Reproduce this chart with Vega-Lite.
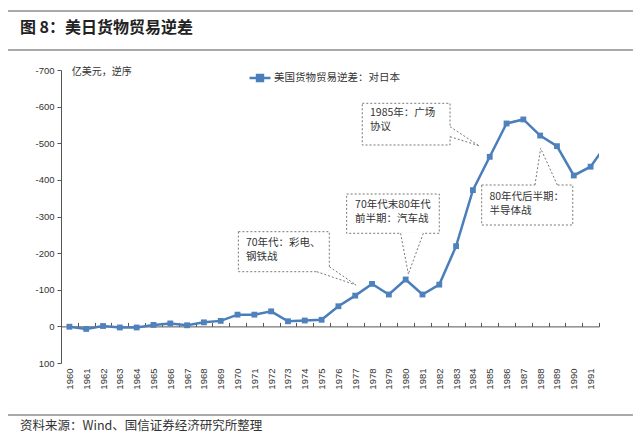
{
  "$schema": "https://vega.github.io/schema/vega-lite/v6.json",
  "description": "US goods trade deficit with Japan, 1960-1991 (reversed axis)",
  "width": 538,
  "height": 293,
  "autosize": {"type": "none"},
  "padding": {"left": 61, "top": 70, "right": 41, "bottom": 72},
  "background": "white",
  "config": {"view": {"stroke": null}, "font": "Liberation Sans"},
  "datasets": {
    "trade": [
      {"year": 1960, "value": 1}, {"year": 1961, "value": 7}, {"year": 1962, "value": -1},
      {"year": 1963, "value": 3}, {"year": 1964, "value": 3}, {"year": 1965, "value": -4},
      {"year": 1966, "value": -8}, {"year": 1967, "value": -3}, {"year": 1968, "value": -11},
      {"year": 1969, "value": -15}, {"year": 1970, "value": -32}, {"year": 1971, "value": -32},
      {"year": 1972, "value": -41}, {"year": 1973, "value": -14}, {"year": 1974, "value": -16},
      {"year": 1975, "value": -18}, {"year": 1976, "value": -55}, {"year": 1977, "value": -84},
      {"year": 1978, "value": -116}, {"year": 1979, "value": -87}, {"year": 1980, "value": -128},
      {"year": 1981, "value": -87}, {"year": 1982, "value": -114}, {"year": 1983, "value": -219},
      {"year": 1984, "value": -372}, {"year": 1985, "value": -463}, {"year": 1986, "value": -554},
      {"year": 1987, "value": -565}, {"year": 1988, "value": -521}, {"year": 1989, "value": -492},
      {"year": 1990, "value": -412}, {"year": 1991, "value": -436}, {"year": 1992, "value": -500}
    ],
    "boxes": [
      {"x1": 1977.42, "x2": 1982.64, "y1": -609.1, "y2": -495.2},
      {"x1": 1976.49, "x2": 1982.0, "y1": -361.4, "y2": -254.1},
      {"x1": 1970.05, "x2": 1975.46, "y1": -258.5, "y2": -149.3},
      {"x1": 1984.52, "x2": 1989.94, "y1": -386.0, "y2": -276.8}
    ],
    "gaps": [
      {"x1": 1982.64, "y1": -545.2, "x2": 1982.64, "y2": -517.9},
      {"x1": 1979.70, "y1": -254.1, "x2": 1981.05, "y2": -254.1},
      {"x1": 1974.71, "y1": -149.3, "x2": 1975.46, "y2": -149.3},
      {"x1": 1975.46, "y1": -149.3, "x2": 1975.46, "y2": -162.9},
      {"x1": 1987.69, "y1": -386.0, "x2": 1989.02, "y2": -386.0}
    ],
    "pointers": [
      {"x1": 1982.64, "y1": -545.2, "x2": 1984.36, "y2": -493.3},
      {"x1": 1982.64, "y1": -517.9, "x2": 1984.36, "y2": -493.3},
      {"x1": 1979.70, "y1": -254.1, "x2": 1980.16, "y2": -143.0},
      {"x1": 1981.05, "y1": -254.1, "x2": 1980.16, "y2": -143.0},
      {"x1": 1975.46, "y1": -162.9, "x2": 1977.05, "y2": -113.0},
      {"x1": 1974.71, "y1": -149.3, "x2": 1977.05, "y2": -113.0},
      {"x1": 1987.69, "y1": -386.0, "x2": 1988.03, "y2": -486.2},
      {"x1": 1989.02, "y1": -386.0, "x2": 1988.03, "y2": -486.2}
    ],
    "notes": [
      {"x": 1977.88, "y": -596.8, "text": "1985年：广场\n协议"},
      {"x": 1976.99, "y": -346.4, "text": "70年代末80年代\n前半期：汽车战"},
      {"x": 1970.50, "y": -241.8, "text": "70年代：彩电、\n钢铁战"},
      {"x": 1984.98, "y": -367.4, "text": "80年代后半期：\n半导体战"}
    ]
  },
  "layer": [
    {
      "data": {"values": [
        {"x1": 1956.35, "x2": 1993.52, "y": -861.1},
        {"x1": 1956.35, "x2": 1993.52, "y": -754.6},
        {"x1": 1956.35, "x2": 1993.52, "y": 242.0}
      ]},
      "mark": {"type": "rule", "stroke": "#555555", "strokeWidth": 1.2},
      "encoding": {
        "x": {
          "field": "x1", "type": "quantitative",
          "scale": {"domain": [1959.5, 1991.5], "nice": false, "zero": false},
          "axis": {
            "orient": "top", "offset": -256.4, "title": null, "labels": false, "grid": false,
            "values": [1959.5, 1960.5, 1961.5, 1962.5, 1963.5, 1964.5, 1965.5, 1966.5, 1967.5, 1968.5, 1969.5, 1970.5, 1971.5, 1972.5, 1973.5, 1974.5, 1975.5, 1976.5, 1977.5, 1978.5, 1979.5, 1980.5, 1981.5, 1982.5, 1983.5, 1984.5, 1985.5, 1986.5, 1987.5, 1988.5, 1989.5, 1990.5, 1991.5],
            "tickSize": 4, "tickColor": "#555555", "domainColor": "#555555"
          }
        },
        "x2": {"field": "x2"},
        "y": {"field": "y", "type": "quantitative", "scale": {"domain": [-700, 100], "reverse": true, "nice": false, "zero": false}, "axis": null}
      }
    },
    {
      "data": {"name": "boxes"},
      "mark": {"type": "rect", "fill": "white", "stroke": "#777777", "strokeWidth": 1, "strokeDash": [2, 2]},
      "encoding": {
        "x": {"field": "x1", "type": "quantitative", "scale": {"domain": [1959.5, 1991.5], "nice": false, "zero": false}, "axis": null},
        "x2": {"field": "x2"},
        "y": {"field": "y1", "type": "quantitative", "scale": {"domain": [-700, 100], "reverse": true, "nice": false, "zero": false}, "axis": null},
        "y2": {"field": "y2"}
      }
    },
    {
      "data": {"name": "gaps"},
      "mark": {"type": "rule", "stroke": "white", "strokeWidth": 2},
      "encoding": {
        "x": {"field": "x1", "type": "quantitative", "scale": {"domain": [1959.5, 1991.5], "nice": false, "zero": false}, "axis": null},
        "x2": {"field": "x2"},
        "y": {"field": "y1", "type": "quantitative", "scale": {"domain": [-700, 100], "reverse": true, "nice": false, "zero": false}, "axis": null},
        "y2": {"field": "y2"}
      }
    },
    {
      "data": {"name": "pointers"},
      "mark": {"type": "rule", "stroke": "#777777", "strokeWidth": 1, "strokeDash": [2, 2]},
      "encoding": {
        "x": {"field": "x1", "type": "quantitative", "scale": {"domain": [1959.5, 1991.5], "nice": false, "zero": false}, "axis": null},
        "x2": {"field": "x2"},
        "y": {"field": "y1", "type": "quantitative", "scale": {"domain": [-700, 100], "reverse": true, "nice": false, "zero": false}, "axis": null},
        "y2": {"field": "y2"}
      }
    },
    {
      "data": {"name": "notes"},
      "mark": {"type": "text", "align": "left", "baseline": "top", "lineBreak": "\n", "lineHeight": 14.5, "font": "Noto Sans CJK SC", "fontSize": 10.5, "color": "#333333"},
      "encoding": {
        "x": {"field": "x", "type": "quantitative", "scale": {"domain": [1959.5, 1991.5], "nice": false, "zero": false}, "axis": null},
        "y": {"field": "y", "type": "quantitative", "scale": {"domain": [-700, 100], "reverse": true, "nice": false, "zero": false}, "axis": null},
        "text": {"field": "text"}
      }
    },
    {
      "data": {"values": [{"x": 1957.06, "y": -814.7, "text": "图 8：美日货物贸易逆差"}]},
      "mark": {"type": "text", "align": "left", "baseline": "middle", "font": "Noto Sans CJK SC", "fontSize": 16, "fontWeight": "bold", "color": "#222222"},
      "encoding": {
        "x": {"field": "x", "type": "quantitative", "scale": {"domain": [1959.5, 1991.5], "nice": false, "zero": false}, "axis": null},
        "y": {"field": "y", "type": "quantitative", "scale": {"domain": [-700, 100], "reverse": true, "nice": false, "zero": false}, "axis": null},
        "text": {"field": "text"}
      }
    },
    {
      "data": {"values": [{"x": 1960.14, "y": -695.4, "text": "亿美元，逆序"}]},
      "mark": {"type": "text", "align": "left", "baseline": "middle", "font": "Noto Sans CJK SC", "fontSize": 10, "color": "#333333"},
      "encoding": {
        "x": {"field": "x", "type": "quantitative", "scale": {"domain": [1959.5, 1991.5], "nice": false, "zero": false}, "axis": null},
        "y": {"field": "y", "type": "quantitative", "scale": {"domain": [-700, 100], "reverse": true, "nice": false, "zero": false}, "axis": null},
        "text": {"field": "text"}
      }
    },
    {
      "data": {"values": [{"x": 1957.06, "y": 271.2, "text": "资料来源：Wind、国信证券经济研究所整理"}]},
      "mark": {"type": "text", "align": "left", "baseline": "middle", "font": "Noto Sans CJK SC", "fontSize": 12.5, "color": "#333333"},
      "encoding": {
        "x": {"field": "x", "type": "quantitative", "scale": {"domain": [1959.5, 1991.5], "nice": false, "zero": false}, "axis": null},
        "y": {"field": "y", "type": "quantitative", "scale": {"domain": [-700, 100], "reverse": true, "nice": false, "zero": false}, "axis": null},
        "text": {"field": "text"}
      }
    },
    {
      "data": {"name": "trade"},
      "mark": {"type": "line", "strokeWidth": 2.5, "clip": true},
      "encoding": {
        "x": {
          "field": "year", "type": "quantitative",
          "scale": {"domain": [1959.5, 1991.5], "nice": false, "zero": false},
          "axis": {
            "orient": "bottom", "title": null, "grid": false, "domain": false, "ticks": false, "tickSize": 0,
            "values": [1960, 1961, 1962, 1963, 1964, 1965, 1966, 1967, 1968, 1969, 1970, 1971, 1972, 1973, 1974, 1975, 1976, 1977, 1978, 1979, 1980, 1981, 1982, 1983, 1984, 1985, 1986, 1987, 1988, 1989, 1990, 1991],
            "format": "d", "labelAngle": 270, "labelPadding": 5, "labelFontSize": 9.5, "labelColor": "#333333", "labelOverlap": false
          }
        },
        "y": {
          "field": "value", "type": "quantitative",
          "scale": {"domain": [-700, 100], "reverse": true, "nice": false, "zero": false},
          "axis": {
            "title": null, "grid": false,
            "values": [-700, -600, -500, -400, -300, -200, -100, 0, 100],
            "labelExpr": "datum.value < 0 ? '-' + abs(datum.value) : '' + datum.value",
            "tickSize": 4, "tickColor": "#555555", "domainColor": "#555555",
            "labelPadding": 3, "labelFontSize": 9.5, "labelColor": "#333333"
          }
        },
        "color": {
          "datum": "美国货物贸易逆差：对日本",
          "scale": {"range": ["#4a7ebb"]},
          "legend": {
            "orient": "none", "legendX": 187, "legendY": -4, "title": null, "padding": 0,
            "symbolType": "M-1,0H1M-0.28,-0.28H0.28V0.28H-0.28Z",
            "symbolSize": 441, "symbolStrokeWidth": 2.5, "symbolFillColor": "#4f81bd", "symbolStrokeColor": "#4a7ebb",
            "labelFont": "Noto Sans CJK SC", "labelFontSize": 10.5, "labelColor": "#333333", "labelOffset": 2
          }
        }
      }
    },
    {
      "data": {"name": "trade"},
      "mark": {"type": "point", "shape": "square", "filled": true, "size": 34, "color": "#4f81bd", "opacity": 1, "clip": true},
      "encoding": {
        "x": {"field": "year", "type": "quantitative", "scale": {"domain": [1959.5, 1991.5], "nice": false, "zero": false}, "axis": null},
        "y": {"field": "value", "type": "quantitative", "scale": {"domain": [-700, 100], "reverse": true, "nice": false, "zero": false}, "axis": null}
      }
    }
  ],
  "resolve": {"axis": {"x": "independent", "y": "independent"}}
}
